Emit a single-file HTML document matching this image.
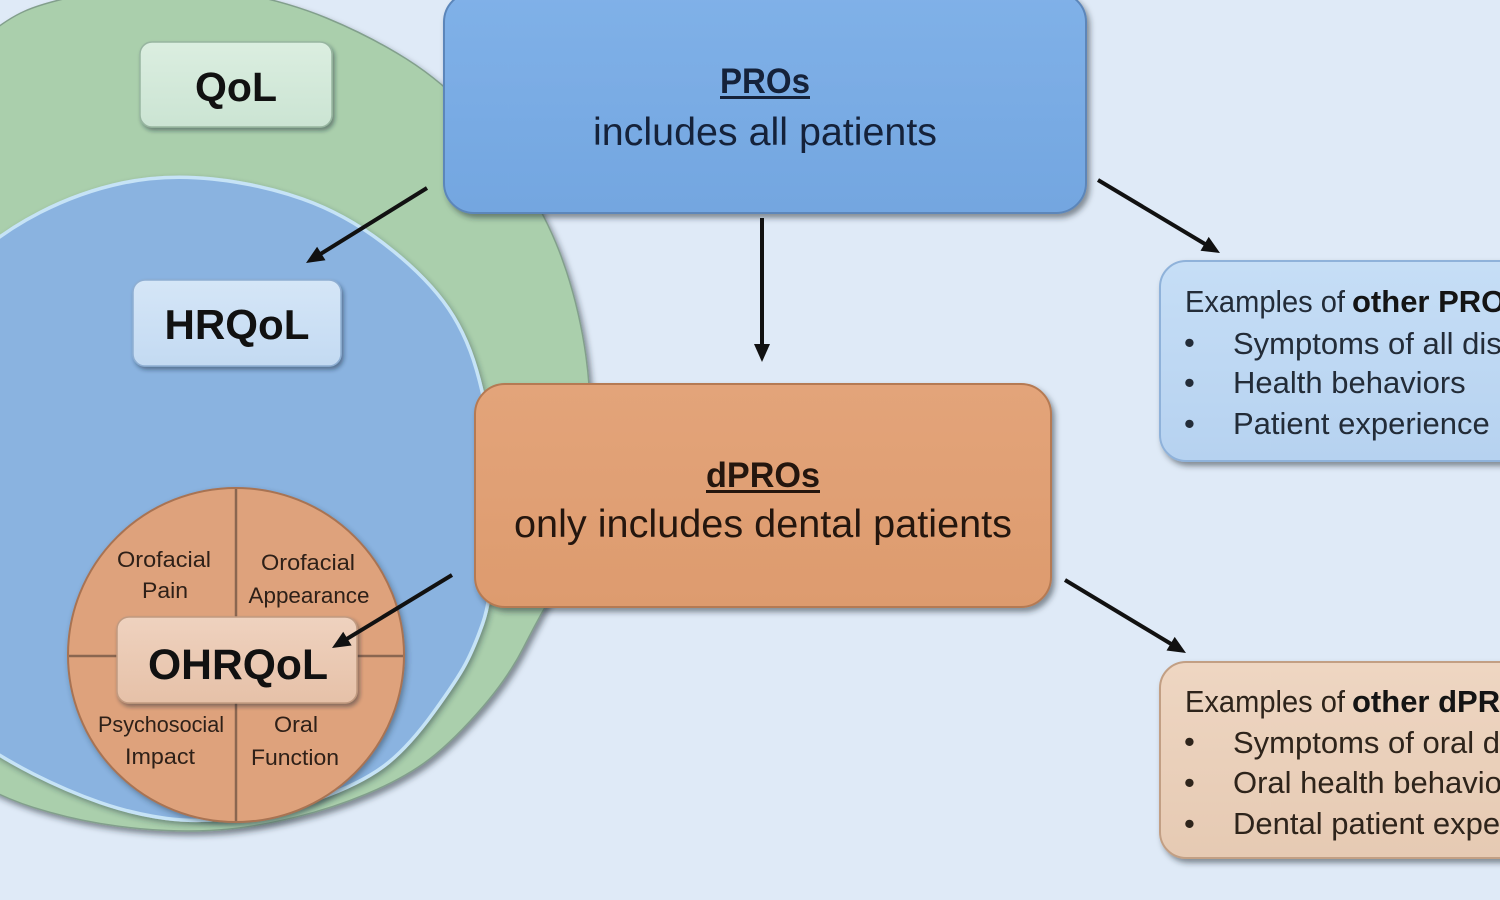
<!DOCTYPE html>
<html>
<head>
<meta charset="utf-8">
<style>
  html, body { margin:0; padding:0; background:#dfeaf7; }
  svg { display:block; }
  text { font-family: "Liberation Sans", "DejaVu Sans", sans-serif; }
</style>
</head>
<body>
<svg width="1500" height="900" viewBox="0 0 1500 900" xmlns="http://www.w3.org/2000/svg">
  <defs>
    <filter id="sh" x="-20%" y="-20%" width="140%" height="140%">
      <feDropShadow dx="3" dy="4" stdDeviation="3" flood-color="#1a2530" flood-opacity="0.5"/>
    </filter>
    <filter id="sh2" x="-20%" y="-20%" width="140%" height="140%">
      <feDropShadow dx="2" dy="3" stdDeviation="2.2" flood-color="#1a2530" flood-opacity="0.45"/>
    </filter>
    <filter id="shc" x="-20%" y="-20%" width="140%" height="140%">
      <feDropShadow dx="2" dy="3" stdDeviation="3" flood-color="#243040" flood-opacity="0.45"/>
    </filter>
    <linearGradient id="gPro" x1="0" y1="0" x2="0" y2="1">
      <stop offset="0" stop-color="#80b1e8"/>
      <stop offset="1" stop-color="#73a6e0"/>
    </linearGradient>
    <linearGradient id="gDpro" x1="0" y1="0" x2="0" y2="1">
      <stop offset="0" stop-color="#e3a47a"/>
      <stop offset="1" stop-color="#dd9b6e"/>
    </linearGradient>
    <linearGradient id="gQol" x1="0" y1="0" x2="0" y2="1">
      <stop offset="0" stop-color="#dbeee0"/>
      <stop offset="1" stop-color="#cbe4d3"/>
    </linearGradient>
    <linearGradient id="gHr" x1="0" y1="0" x2="0" y2="1">
      <stop offset="0" stop-color="#d5e6f7"/>
      <stop offset="1" stop-color="#c3daf2"/>
    </linearGradient>
    <linearGradient id="gOh" x1="0" y1="0" x2="0" y2="1">
      <stop offset="0" stop-color="#efd2bf"/>
      <stop offset="1" stop-color="#e6c1a8"/>
    </linearGradient>
    <linearGradient id="gR1" x1="0" y1="0" x2="0" y2="1">
      <stop offset="0" stop-color="#c6def6"/>
      <stop offset="1" stop-color="#b6d2f0"/>
    </linearGradient>
    <linearGradient id="gR2" x1="0" y1="0" x2="0" y2="1">
      <stop offset="0" stop-color="#eed6c2"/>
      <stop offset="1" stop-color="#e6cab3"/>
    </linearGradient>
  </defs>

  <rect x="0" y="0" width="1500" height="900" fill="#dfeaf7"/>

  <!-- Green QoL ring -->
  <path filter="url(#sh)" fill="#aacfac" stroke="#829f8c" stroke-width="1.5"
    d="M -30 51 Q 0 22 25 11 Q 50 0 108 -10 Q 166 -20 224.5 -10 Q 283 0 326.5 18 Q 370 36 406.5 59
       Q 443 82 474 116 Q 505 150 529 190 Q 553 230 566.5 271.5 Q 580 313 586 356.5 Q 592 400 590 450
       Q 588 500 579 532.5 Q 570 565 555 590 Q 540 615 523.5 647.5 Q 507 680 477 713.5 Q 447 747 423.5 763.5
       Q 400 780 366.5 794 Q 333 808 296.5 817 Q 260 826 230 829 Q 200 832 166.5 830.5 Q 133 829 100 823.5
       Q 67 818 33.5 807.5 Q 0 797 -30 778.5 L -100 400 Z"/>

  <!-- Blue HRQoL circle -->
  <path filter="url(#shc)" fill="#8ab3e0" stroke="#c6e3f6" stroke-width="3.5"
    d="M -30 261.5 Q 0 233 40 212.5 Q 80 192 122.5 183 Q 165 174 212.5 179 Q 260 184 302.5 199
       Q 345 214 383 243 Q 421 272 443 301 Q 465 330 476.5 370 Q 488 410 492.5 455 Q 497 500 494 550
       Q 491 600 482.5 624 Q 474 648 465.5 664 Q 457 680 433.5 712.5 Q 410 745 388.5 762.5
       Q 367 780 328.5 795 Q 290 810 245 816.5 Q 200 823 166.5 818.5 Q 133 814 100 802.5
       Q 67 791 33.5 774 Q 0 757 -30 736 L -100 500 Z"/>

  <!-- Orange OHRQoL circle -->
  <ellipse cx="236" cy="655" rx="168" ry="167" fill="#dea27b" stroke="#a87352" stroke-width="2" filter="url(#shc)"/>
  <line x1="236" y1="489" x2="236" y2="821" stroke="#8a6650" stroke-width="2.5"/>
  <line x1="69" y1="656" x2="403" y2="656" stroke="#8a6650" stroke-width="2.5"/>

  <g fill="#2e2018" font-size="22" text-anchor="middle">
    <text x="164" y="567" textLength="94" lengthAdjust="spacingAndGlyphs">Orofacial</text>
    <text x="165" y="598" textLength="46" lengthAdjust="spacingAndGlyphs">Pain</text>
    <text x="308" y="570" textLength="94" lengthAdjust="spacingAndGlyphs">Orofacial</text>
    <text x="309" y="603" textLength="121" lengthAdjust="spacingAndGlyphs">Appearance</text>
    <text x="161" y="732" textLength="126" lengthAdjust="spacingAndGlyphs">Psychosocial</text>
    <text x="160" y="764" textLength="70" lengthAdjust="spacingAndGlyphs">Impact</text>
    <text x="296" y="732" textLength="44" lengthAdjust="spacingAndGlyphs">Oral</text>
    <text x="295" y="765" textLength="88" lengthAdjust="spacingAndGlyphs">Function</text>
  </g>

  <!-- Small label boxes -->
  <rect x="140" y="42" width="192" height="85" rx="12" fill="url(#gQol)" stroke="#97b5a0" stroke-width="1.5" filter="url(#sh2)"/>
  <text x="236" y="101" font-size="41" font-weight="bold" fill="#111" text-anchor="middle" textLength="82" lengthAdjust="spacingAndGlyphs">QoL</text>

  <rect x="133" y="280" width="208" height="86" rx="12" fill="url(#gHr)" stroke="#8eaed2" stroke-width="1.5" filter="url(#sh2)"/>
  <text x="237" y="339" font-size="42" font-weight="bold" fill="#111" text-anchor="middle" textLength="145" lengthAdjust="spacingAndGlyphs">HRQoL</text>

  <rect x="117" y="617" width="240" height="86" rx="12" fill="url(#gOh)" stroke="#c09a80" stroke-width="1.5" filter="url(#sh2)"/>
  <text x="238" y="679" font-size="43" font-weight="bold" fill="#111" text-anchor="middle" textLength="180" lengthAdjust="spacingAndGlyphs">OHRQoL</text>

  <!-- PROs box -->
  <rect x="444" y="-8" width="642" height="221" rx="30" fill="url(#gPro)" stroke="#5b86ba" stroke-width="2" filter="url(#sh)"/>
  <text x="765" y="93" font-size="35" font-weight="bold" fill="#15223a" text-anchor="middle" textLength="90" lengthAdjust="spacingAndGlyphs">PROs</text>
  <rect x="720" y="96" width="90" height="3" fill="#15223a"/>
  <text x="765" y="145" font-size="39" fill="#15223a" text-anchor="middle" textLength="344" lengthAdjust="spacingAndGlyphs">includes all patients</text>

  <!-- dPROs box -->
  <rect x="475" y="384" width="576" height="223" rx="30" fill="url(#gDpro)" stroke="#b57a53" stroke-width="2" filter="url(#sh)"/>
  <text x="763" y="487" font-size="35" font-weight="bold" fill="#24160e" text-anchor="middle" textLength="114" lengthAdjust="spacingAndGlyphs">dPROs</text>
  <rect x="706" y="490" width="114" height="3" fill="#24160e"/>
  <text x="763" y="537" font-size="39" fill="#24160e" text-anchor="middle" textLength="498" lengthAdjust="spacingAndGlyphs">only includes dental patients</text>

  <!-- Right box 1 -->
  <rect x="1160" y="261" width="400" height="200" rx="26" fill="url(#gR1)" stroke="#8fb2da" stroke-width="2" filter="url(#sh)"/>
  <g font-size="31" fill="#232c38">
    <text x="1185" y="312" textLength="160" lengthAdjust="spacingAndGlyphs">Examples of</text>
    <text x="1352" y="312" font-weight="bold" fill="#141414">other PROs:</text>
    <text x="1184" y="353">•</text>
    <text x="1233" y="354">Symptoms of all diseases</text>
    <text x="1184" y="393">•</text>
    <text x="1233" y="393">Health behaviors</text>
    <text x="1184" y="434">•</text>
    <text x="1233" y="434">Patient experience</text>
  </g>

  <!-- Right box 2 -->
  <rect x="1160" y="662" width="400" height="196" rx="26" fill="url(#gR2)" stroke="#c29f84" stroke-width="2" filter="url(#sh)"/>
  <g font-size="31" fill="#2e241b">
    <text x="1185" y="712" textLength="160" lengthAdjust="spacingAndGlyphs">Examples of</text>
    <text x="1352" y="712" font-weight="bold" fill="#141414">other dPROs:</text>
    <text x="1184" y="752">•</text>
    <text x="1233" y="753">Symptoms of oral diseases</text>
    <text x="1184" y="793">•</text>
    <text x="1233" y="793">Oral health behaviors</text>
    <text x="1184" y="834">•</text>
    <text x="1233" y="834">Dental patient experience</text>
  </g>

  <!-- Arrows -->
  <g stroke="#111" stroke-width="4" fill="none">
    <line x1="427" y1="188" x2="320" y2="254.3"/>
    <line x1="762" y1="218" x2="762" y2="346"/>
    <line x1="1098" y1="180" x2="1206" y2="244.6"/>
    <line x1="452" y1="575" x2="346" y2="639.4"/>
    <line x1="1065" y1="580" x2="1172" y2="644.5"/>
  </g>
  <g fill="#111">
    <polygon points="306,263 317.1,246.7 325.5,260.3"/>
    <polygon points="762,362 754,344 770,344"/>
    <polygon points="1220,253 1200.5,250.7 1208.7,236.9"/>
    <polygon points="332,648 343.2,631.8 351.6,645.5"/>
    <polygon points="1186,653 1166.5,650.5 1174.7,636.9"/>
  </g>
</svg>
</body>
</html>
